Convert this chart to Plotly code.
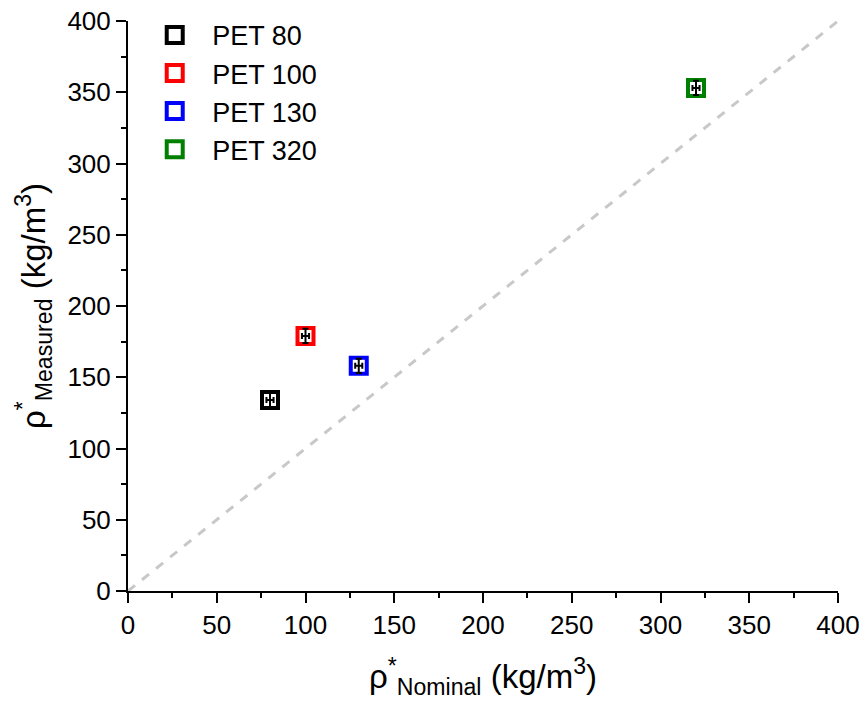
import plotly.graph_objects as go

names = ["PET 80", "PET 100", "PET 130", "PET 320"]
nominal = [80, 100, 130, 320]
measured = [134, 179, 158, 353]
err_y = [5, 5, 5, 5]
err_x = [2, 2, 2, 2]
colors = ["#000000", "#ff0000", "#0000ff", "#008000"]
diag = [0, 400]
ticks = [0, 50, 100, 150, 200, 250, 300, 350, 400]

fig = go.Figure()
fig.add_trace(go.Scatter(x=diag, y=diag, mode="lines",
                         line=dict(color="#c8c8c8", width=3, dash="dash"),
                         showlegend=False, hoverinfo="skip"))
for n, x, y, c in zip(names, nominal, measured, colors):
    fig.add_trace(go.Scatter(x=[x], y=[y], mode="markers", name=n,
                             marker=dict(symbol="square", size=16, color="white",
                                         line=dict(color=c, width=4))))
for n, x, y, ex, ey in zip(names, nominal, measured, err_x, err_y):
    fig.add_trace(go.Scatter(x=[x], y=[y], mode="markers", showlegend=False,
                             marker=dict(size=1, opacity=0),
                             error_y=dict(type="data", array=[ey], color="black", thickness=2, width=3),
                             error_x=dict(type="data", array=[ex], color="black", thickness=2, width=3)))

axis_common = dict(
    range=[0, 400], tickvals=ticks, showgrid=False, zeroline=False, automargin=False,
    showline=True, linecolor="black", linewidth=2,
    ticks="outside", ticklen=10, tickwidth=2, tickcolor="black",
    tickfont=dict(family="Liberation Sans, Arial", size=26, color="black"),
    minor=dict(ticks="outside", ticklen=5, tickwidth=2, tickcolor="black", dtick=25, showgrid=False),
)
fig.update_xaxes(**axis_common,
                 title=dict(text="ρ<sup>*</sup><sub>Nominal</sub> (kg/m<sup>3</sup>)",
                            font=dict(family="Liberation Sans, Arial", size=33, color="black"),
                            standoff=26))
fig.update_yaxes(**axis_common,
                 title=dict(text="ρ<sup>*</sup><sub>Measured</sub> (kg/m<sup>3</sup>)",
                            font=dict(family="Liberation Sans, Arial", size=33, color="black"),
                            standoff=12))
fig.update_layout(
    width=868, height=704,
    margin=dict(l=128, r=30, t=20, b=113),
    plot_bgcolor="white", paper_bgcolor="white",
    legend=dict(x=0.013, y=1.016, xanchor="left", yanchor="top",
                font=dict(family="Liberation Sans, Arial", size=27, color="black"),
                bgcolor="rgba(0,0,0,0)", tracegroupgap=0, itemwidth=65),
)
fig.write_html("out.html")
